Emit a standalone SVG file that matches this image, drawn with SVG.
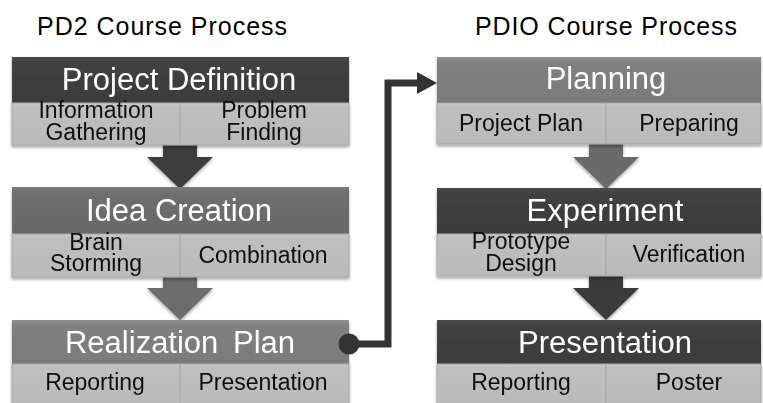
<svg xmlns="http://www.w3.org/2000/svg" width="763" height="403" viewBox="0 0 763 403">
  <defs>
    <linearGradient id="gDark" x1="0" y1="0" x2="0" y2="1">
      <stop offset="0" stop-color="#4a4a4a"/>
      <stop offset="0.15" stop-color="#404040"/>
      <stop offset="1" stop-color="#3b3b3b"/>
    </linearGradient>
    <linearGradient id="gMid" x1="0" y1="0" x2="0" y2="1">
      <stop offset="0" stop-color="#7a7a7a"/>
      <stop offset="0.15" stop-color="#6e6e6e"/>
      <stop offset="1" stop-color="#696969"/>
    </linearGradient>
    <linearGradient id="gLight" x1="0" y1="0" x2="0" y2="1">
      <stop offset="0" stop-color="#8e8e8e"/>
      <stop offset="0.15" stop-color="#808080"/>
      <stop offset="1" stop-color="#7a7a7a"/>
    </linearGradient>
    <linearGradient id="gSub" x1="0" y1="0" x2="0" y2="1">
      <stop offset="0" stop-color="#c8c8c8"/>
      <stop offset="0.1" stop-color="#bfbfbf"/>
      <stop offset="1" stop-color="#bababa"/>
    </linearGradient>
    <filter id="shadow" x="-5%" y="-10%" width="110%" height="125%">
      <feDropShadow dx="0" dy="2" stdDeviation="1.5" flood-color="#000" flood-opacity="0.35"/>
    </filter>
  </defs>
  <style>
    .title { font-family: "Liberation Sans", Arial, sans-serif; font-size: 25px; fill: #000; }
    .head { font-family: "Liberation Sans", Arial, sans-serif; font-size: 31px; fill: #fff; text-anchor: middle; }
    .sub { font-family: "Liberation Sans", Arial, sans-serif; font-size: 23px; fill: #111; text-anchor: middle; }
    .cell { fill: url(#gSub); stroke: #a8a8a8; stroke-width: 1; }
    .conn { fill: none; stroke: #333; stroke-width: 7; stroke-linejoin: miter; }
  </style>

  <rect width="763" height="403" fill="#fff"/>

  <text class="title" x="37" y="35" textLength="250" lengthAdjust="spacing">PD2 Course Process</text>
  <text class="title" x="475" y="35" textLength="262" lengthAdjust="spacing">PDIO Course Process</text>

  <!-- block arrows between stages -->
  <g id="flow-arrows" filter="url(#shadow)">
    <polygon points="163,144 197,144 197,157 213,157 180,189 147,157 163,157" fill="#3d3d3d"/>
    <polygon points="163,276 197,276 197,288 213,288 180,320 147,288 163,288" fill="#6c6c6c"/>
    <polygon points="589,143 623,143 623,157 639,157 606,189 573,157 589,157" fill="#6a6a6a"/>
    <polygon points="589,275 623,275 623,288 639,288 606,320 573,288 589,288" fill="#3b3b3b"/>
  </g>

  <!-- PD2 column -->
  <g id="project-definition" filter="url(#shadow)">
    <rect x="12" y="57" width="337" height="46" fill="url(#gDark)"/>
    <rect class="cell" x="12" y="103" width="168" height="42"/>
    <rect class="cell" x="180" y="103" width="169" height="42"/>
    <text class="head" x="179" y="90">Project Definition</text>
    <text class="sub"><tspan x="96" y="118">Information</tspan><tspan x="96" dy="22">Gathering</tspan></text>
    <text class="sub"><tspan x="264" y="118">Problem</tspan><tspan x="264" dy="22">Finding</tspan></text>
  </g>

  <g id="idea-creation" filter="url(#shadow)">
    <rect x="12" y="187" width="337" height="47" fill="url(#gMid)"/>
    <rect class="cell" x="12" y="234" width="168" height="43"/>
    <rect class="cell" x="180" y="234" width="169" height="43"/>
    <text class="head" x="179" y="221">Idea Creation</text>
    <text class="sub"><tspan x="96" y="250">Brain</tspan><tspan x="96" dy="21">Storming</tspan></text>
    <text class="sub" x="263" y="263">Combination</text>
  </g>

  <g id="realization-plan" filter="url(#shadow)">
    <rect x="12" y="320" width="337" height="44" fill="url(#gLight)"/>
    <rect class="cell" x="12" y="364" width="168" height="40"/>
    <rect class="cell" x="180" y="364" width="169" height="40"/>
    <text class="head" x="180" y="353" word-spacing="6">Realization Plan</text>
    <text class="sub" x="95" y="390">Reporting</text>
    <text class="sub" x="263" y="390">Presentation</text>
  </g>

  <!-- PDIO column -->
  <g id="planning" filter="url(#shadow)">
    <rect x="437" y="57" width="324" height="46" fill="url(#gLight)"/>
    <rect class="cell" x="437" y="103" width="169" height="41"/>
    <rect class="cell" x="606" y="103" width="155" height="41"/>
    <text class="head" x="606" y="89">Planning</text>
    <text class="sub" x="521" y="131">Project Plan</text>
    <text class="sub" x="689" y="131">Preparing</text>
  </g>

  <g id="experiment" filter="url(#shadow)">
    <rect x="437" y="188" width="324" height="46" fill="url(#gDark)"/>
    <rect class="cell" x="437" y="234" width="169" height="42"/>
    <rect class="cell" x="606" y="234" width="155" height="42"/>
    <text class="head" x="605" y="221">Experiment</text>
    <text class="sub"><tspan x="521" y="249">Prototype</tspan><tspan x="521" dy="22">Design</tspan></text>
    <text class="sub" x="689" y="262">Verification</text>
  </g>

  <g id="presentation" filter="url(#shadow)">
    <rect x="437" y="320" width="324" height="44" fill="url(#gDark)"/>
    <rect class="cell" x="437" y="364" width="169" height="40"/>
    <rect class="cell" x="606" y="364" width="155" height="40"/>
    <text class="head" x="605" y="353">Presentation</text>
    <text class="sub" x="521" y="390">Reporting</text>
    <text class="sub" x="689" y="390">Poster</text>
  </g>

  <!-- elbow connector from Realization Plan to Planning -->
  <g id="connectors">
    <polyline class="conn" points="349,344 388,344 388,83 420,83"/>
    <circle cx="349" cy="344" r="10.5" fill="#333"/>
    <polygon points="417,72 437,83 417,94" fill="#333"/>
  </g>
</svg>
